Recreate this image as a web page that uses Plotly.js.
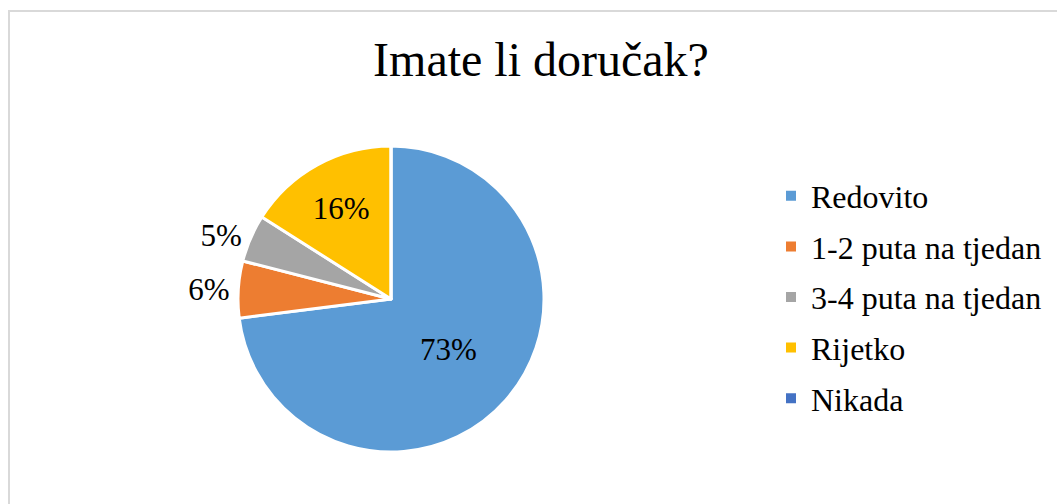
<!DOCTYPE html>
<html>
<head>
<meta charset="utf-8">
<script src="https://cdn.plot.ly/plotly-3.0.1.min.js"></script>
<style>
  html, body { margin: 0; padding: 0; background: #ffffff; }
  #wrap { position: relative; width: 1057px; height: 504px; overflow: hidden; }
  #frame { position: absolute; left: 8px; top: 10px; width: 1200px; height: 700px; border: 2px solid #d9d9d9; box-sizing: border-box; }
  #chart { position: absolute; left: 0; top: 0; width: 1057px; height: 504px; }
</style>
</head>
<body>
<div id="wrap">
  <div id="frame"></div>
  <div id="chart"></div>
</div>
<script>
const categories = ['Redovito', '1-2 puta na tjedan', '3-4 puta na tjedan', 'Rijetko', 'Nikada'];
const shares = [73, 6, 5, 16, 0];
const colors = ['#5B9BD5', '#ED7D31', '#A5A5A5', '#FFC000', '#4472C4'];
const labelPositions = ['inside', 'outside', 'outside', 'inside', 'none'];
const chartTitle = 'Imate li doručak?';

const serif = 'Liberation Serif';

const pie = {
  type: 'pie',
  labels: categories,
  values: shares,
  sort: false,
  direction: 'clockwise',
  rotation: 0,
  marker: { colors: colors, line: { color: '#ffffff', width: 3 } },
  texttemplate: '%{percent:.0%}',
  textposition: labelPositions,
  insidetextorientation: 'horizontal',
  textfont: { family: serif, size: 31, color: '#000000' },
  showlegend: false,
  hoverinfo: 'label+percent',
  domain: { x: [238 / 1057, 544 / 1057], y: [52 / 504, 358 / 504] }
};

const legendTraces = categories.map((c, i) => ({
  type: 'scatter',
  mode: 'markers',
  x: [null],
  y: [null],
  name: c,
  legendgroup: 'g' + i,
  marker: { symbol: 'square', size: 10, color: colors[i] },
  hoverinfo: 'skip'
}));

const layout = {
  width: 1057,
  height: 504,
  margin: { l: 0, r: 0, t: 0, b: 0 },
  paper_bgcolor: 'rgba(0,0,0,0)',
  plot_bgcolor: 'rgba(0,0,0,0)',
  font: { family: serif },
  title: {
    text: chartTitle,
    font: { family: serif, size: 48, color: '#000000' },
    x: 541 / 1057, xanchor: 'center',
    y: 1 - 59 / 504, yanchor: 'middle',
    xref: 'paper', yref: 'container'
  },
  xaxis: { visible: false },
  yaxis: { visible: false },
  legend: {
    x: 771 / 1057, xanchor: 'left',
    y: 1 - 168.5 / 504, yanchor: 'top',
    font: { family: serif, size: 32, color: '#000000' },
    tracegroupgap: 6,
    traceorder: 'grouped',
    bgcolor: 'rgba(0,0,0,0)'
  },
  showlegend: true
};

Plotly.newPlot('chart', [pie].concat(legendTraces), layout, { displayModeBar: false, staticPlot: true });
</script>
</body>
</html>
